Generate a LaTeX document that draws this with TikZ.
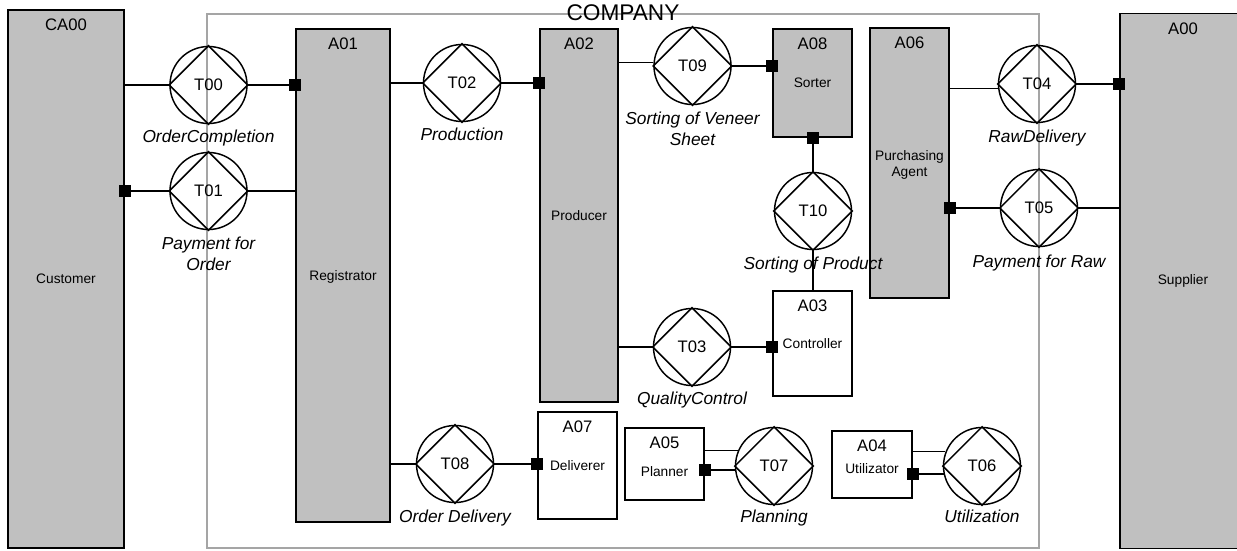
\documentclass[tikz,border=0pt]{standalone}
\usepackage{fontspec}
\setmainfont{Liberation Sans}
\definecolor{boxgray}{RGB}{192,192,192}
\definecolor{framegray}{RGB}{165,165,165}
\begin{document}
\begin{tikzpicture}[x=0.75pt,y=-0.75pt,
  abox/.style 2 args={draw=black, line width=1pt, inner sep=0pt, minimum width=#1*0.75pt, minimum height=#2*0.75pt},
  gbox/.style={fill=boxgray},
  wbox/.style={fill=white},
  head/.style={font=\fontsize{12.5}{15}\selectfont, inner sep=0pt, anchor=north},
  body/.style={font=\fontsize{10.3}{12.6}\selectfont, inner sep=0pt, align=center},
  trans/.style={circle, draw, line width=1.1pt, minimum size=77*0.75pt, inner sep=0pt, font=\fontsize{12.5}{15}\selectfont},
  tlab/.style={font=\fontsize{13}{15.75}\selectfont\itshape, inner sep=0pt, anchor=north, align=center},
  conn/.style={line width=0.8pt},
  connk/.style={line width=1.5pt},
  sq/.style={fill=black, inner sep=0pt, minimum size=9pt}
]
\useasboundingbox (0,0) rectangle (1237,550);

% company frame
\node[draw=framegray, line width=2.2pt, minimum width=832*0.75pt, minimum height=534*0.75pt, inner sep=0pt] (company) at (623,281) {};
\node[font=\fontsize{17}{20}\selectfont, anchor=base, inner sep=0pt] (companylbl) at (623,20) {COMPANY};

% actor boxes
\node[abox={116}{538}, gbox] (CA00) at (66,279) {};
\node[abox={94}{493}, gbox] (A01) at (343,275.5) {};
\node[abox={78}{373}, gbox] (A02) at (579,215.5) {};
\node[abox={79}{108}, gbox] (A08) at (812.5,83) {};
\node[abox={79}{270}, gbox] (A06) at (909.5,163) {};
\node[abox={126}{535}, gbox] (A00) at (1183,281) {};
\node[abox={79}{105}, wbox] (A03) at (812.5,343.5) {};
\node[abox={79}{107}, wbox] (A07) at (577.5,465.5) {};
\node[abox={79}{72}, wbox] (A05) at (664.5,464) {};
\node[abox={80}{67}, wbox] (A04) at (872,464.5) {};

% headings
\node[head] (hCA00) at ([yshift=-7pt]CA00.north) {CA00};
\node[head] (hA01) at ([yshift=-7pt]A01.north) {A01};
\node[head] (hA02) at ([yshift=-7pt]A02.north) {A02};
\node[head] (hA08) at ([yshift=-7pt]A08.north) {A08};
\node[head] (hA06) at ([yshift=-7pt]A06.north) {A06};
\node[head] (hA00) at ([yshift=-7pt]A00.north) {A00};
\node[head] (hA03) at ([yshift=-7pt]A03.north) {A03};
\node[head] (hA07) at ([yshift=-7pt]A07.north) {A07};
\node[head] (hA05) at ([yshift=-7pt]A05.north) {A05};
\node[head] (hA04) at ([yshift=-7pt]A04.north) {A04};

% body texts
\node[body] (bCA00) at (CA00.center) {Customer};
\node[body] (bA01) at (343,277) {Registrator};
\node[body] (bA02) at (A02.center) {Producer};
\node[body] (bA08) at (A08.center) {Sorter};
\node[body] (bA06) at (909.5,165) {Purchasing\\Agent};
\node[body] (bA00) at (A00.center) {Supplier};
\node[body] (bA03) at (A03.center) {Controller};
\node[body] (bA07) at (A07.center) {Deliverer};
\node[body] (bA05) at (664.5,471.5) {Planner};
\node[body] (bA04) at (872,469) {Utilizator};

% transactions
\node[trans] (T00) at (208.5,85) {T00};
\node[trans] (T01) at (208.5,191) {T01};
\node[trans] (T02) at (462,83) {T02};
\node[trans] (T09) at (692.5,66) {T09};
\node[trans] (T10) at (813,211) {T10};
\node[trans] (T04) at (1037,84) {T04};
\node[trans] (T05) at (1039,208) {T05};
\node[trans] (T03) at (692,347) {T03};
\node[trans] (T08) at (455,464) {T08};
\node[trans] (T07) at (774,466) {T07};
\node[trans] (T06) at (982,466) {T06};
\foreach \t in {T00,T01,T02,T09,T10,T04,T05,T03,T08,T07,T06}
  \draw[line width=1.1pt] (\t.north) -- (\t.east) -- (\t.south) -- (\t.west) -- cycle;

% transaction labels
\node[tlab] (L00) at ([yshift=-33.75pt]T00.center) {OrderCompletion};
\node[tlab] (L01) at ([yshift=-34.5pt]T01.center) {Payment for\\Order};
\node[tlab] (L02) at ([yshift=-33.75pt]T02.center) {Production};
\node[tlab] (L09) at ([yshift=-34.5pt]T09.center) {Sorting of Veneer\\Sheet};
\node[tlab] (L10) at ([yshift=-34.5pt]T10.center) {Sorting of Product};
\node[tlab] (L04) at ([yshift=-34.5pt]T04.center) {RawDelivery};
\node[tlab] (L05) at ([yshift=-35pt]T05.center) {Payment for Raw};
\node[tlab] (L03) at ([yshift=-33.75pt]T03.center) {QualityControl};
\node[tlab] (L08) at ([yshift=-34.5pt]T08.center) {Order Delivery};
\node[tlab] (L07) at ([yshift=-33pt]T07.center) {Planning};
\node[tlab] (L06) at ([yshift=-33pt]T06.center) {Utilization};

% connectors
\draw[conn] (CA00.east |- T00.center) -- (T00.west);
\draw[connk] (T00.east) -- (T00.center -| A01.west);
\draw[connk] (CA00.east |- T01.center) -- (T01.west);
\draw[conn] (T01.east) -- (T01.center -| A01.west);
\draw[conn] (A01.east |- T02.center) -- (T02.west);
\draw[connk] (T02.east) -- (T02.center -| A02.west);
\draw[conn] (A02.east |- T09.175) -- (T09.175);
\draw[connk] (T09.east) -- (T09.center -| A08.west);
\draw[connk] (T10.center |- A08.south) -- (T10.north);
\draw[conn] (T10.south) -- (T10.south |- A03.north);
\draw[conn] (A02.east |- T03.center) -- (T03.west);
\draw[connk] (T03.east) -- (T03.center -| A03.west);
\draw[conn] (A06.east |- T04.186) -- (T04.186);
\draw[connk] (T04.east) -- (T04.center -| A00.west);
\draw[connk] (A06.east |- T05.center) -- (T05.west);
\draw[conn] (T05.east) -- (T05.center -| A00.west);
\draw[conn] (A01.east |- T08.center) -- (T08.west);
\draw[connk] (T08.east) -- (T08.center -| A07.west);
\draw[conn] (A05.east |- T07.156) -- (T07.156);
\draw[connk] (A05.east |- T07.186) -- (T07.186);
\draw[conn] (A04.east |- T06.159) -- (T06.159);
\draw[connk] (A04.east |- T06.192) -- (T06.192);

% connection squares
\node[sq] (q00) at (T00.center -| A01.west) {};
\node[sq] (q01) at (T01.center -| CA00.east) {};
\node[sq] (q02) at (T02.center -| A02.west) {};
\node[sq] (q09) at (T09.center -| A08.west) {};
\node[sq] (q10) at (T10.center |- A08.south) {};
\node[sq] (q03) at (T03.center -| A03.west) {};
\node[sq] (q04) at (T04.center -| A00.west) {};
\node[sq] (q05) at (T05.center -| A06.east) {};
\node[sq] (q08) at (T08.center -| A07.west) {};
\node[sq] (q07) at (A05.east |- T07.186) {};
\node[sq] (q06) at (A04.east |- T06.192) {};
\end{tikzpicture}
\end{document}
